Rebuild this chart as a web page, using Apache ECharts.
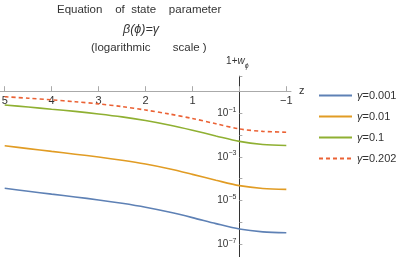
<!DOCTYPE html>
<html>
<head>
<meta charset="utf-8">
<script src="https://cdn.jsdelivr.net/npm/echarts@6/dist/echarts.min.js"></script>
<style>
html,body{margin:0;padding:0;background:#fff;}
#c{width:407px;height:257px;}
</style>
</head>
<body>
<div id="c"></div>
<script>
// ---- data ----
const zValues = [5, 4.5, 4, 3.5, 3, 2.5, 2, 1.5, 1, 0.5, 0, -0.5, -1];
const gamma0001 = [3.63e-5, 2.66e-5, 1.95e-5, 1.45e-5, 1.06e-5, 7.41e-6, 4.90e-6, 2.95e-6, 1.64e-6, 8.71e-7, 4.90e-7, 3.63e-7, 3.31e-7];
const gamma001  = [3.24e-3, 2.40e-3, 1.78e-3, 1.33e-3, 9.89e-4, 7.00e-4, 4.68e-4, 2.85e-4, 1.58e-4, 8.51e-5, 4.79e-5, 3.55e-5, 3.24e-5];
const gamma01   = [0.240, 0.193, 0.153, 0.122, 0.0933, 0.0684, 0.0462, 0.0288, 0.0166, 0.00912, 0.00513, 0.00372, 0.00331];
const gamma0202 = [0.575, 0.490, 0.412, 0.339, 0.269, 0.202, 0.141, 0.0933, 0.0575, 0.0331, 0.0191, 0.0148, 0.0135];
const seriesNames = ['γ=0.001', 'γ=0.01', 'γ=0.1', 'γ=0.202'];
const xTickValues = [-1, 0, 1, 2, 3, 4, 5];
const xLabelValues = [-1, 1, 2, 3, 4, 5];
const titleLines = ['Equation    of  state    parameter', 'β(ϕ)=γ', '(logarithmic       scale )'];

const colors = ['#5E81B5', '#E19C24', '#8FB032', '#EB6235'];
const allData = [gamma0001, gamma001, gamma01, gamma0202];
const pairs = arr => zValues.map((z, i) => [z, arr[i]]);

const X_MIN = -1.1, X_MAX = 5.1;
const GRID_LEFT = 0, GRID_RIGHT = 116, W = 407;
const gridWidth = W - GRID_LEFT - GRID_RIGHT;
// y axis crosses the x axis at z = 0 (inverse x axis)
const yAxisOffset = -(gridWidth * (X_MAX - 0) / (X_MAX - X_MIN));

const chart = echarts.init(document.getElementById('c'), null, {renderer: 'canvas'});
const FONT = '"Liberation Sans", Arial, sans-serif';

chart.setOption({
  animation: false,
  backgroundColor: '#fff',
  textStyle: {fontFamily: FONT},
  title: [
    {text: titleLines[0], left: 57, top: 4, padding: 0, textStyle: {fontSize: 11.5, fontWeight: 'normal', color: '#333', fontFamily: FONT}},
    {text: titleLines[1], left: 123, top: 23, padding: 0, textStyle: {fontSize: 12.5, fontWeight: 'normal', fontStyle: 'italic', color: '#333', fontFamily: FONT}},
    {text: titleLines[2], left: 91, top: 42, padding: 0, textStyle: {fontSize: 11.5, fontWeight: 'normal', color: '#333', fontFamily: FONT}}
  ],
  legend: {
    orient: 'vertical',
    left: 318,
    top: 90,
    padding: 0,
    itemWidth: 33,
    itemHeight: 12,
    itemGap: 10,
    data: seriesNames,
    itemStyle: {opacity: 0},
    formatter: n => n.replace('γ', '{i|γ}'),
    textStyle: {
      fontSize: 11, color: '#333', fontFamily: FONT,
      rich: {i: {fontStyle: 'italic', fontSize: 11, color: '#333', fontFamily: FONT}}
    }
  },
  grid: {left: GRID_LEFT, right: GRID_RIGHT, top: 76.2, bottom: -8.9, containLabel: false, outerBoundsMode: 'none'},
  xAxis: {
    type: 'value',
    inverse: true,
    min: X_MIN,
    max: X_MAX,
    position: 'top',
    offset: -15,
    name: 'z',
    nameLocation: 'start',
    nameGap: 8,
    nameTextStyle: {fontSize: 11, color: '#333', fontFamily: FONT, verticalAlign: 'middle'},
    axisLine: {onZero: false, lineStyle: {color: '#aaa', width: 1}},
    axisTick: {show: true, customValues: xTickValues, length: 5, lineStyle: {color: '#aaa'}},
    axisLabel: {
      customValues: xLabelValues, inside: true, margin: 4, fontSize: 11, color: '#333', fontFamily: FONT,
      formatter: v => (v < 0 ? '−' + (-v) : String(v))
    },
    splitLine: {show: false}
  },
  yAxis: {
    type: 'log',
    logBase: 10,
    min: 1e-8,
    max: Math.pow(10, 0.7),
    splitNumber: 9,
    position: 'left',
    offset: yAxisOffset,
    name: '1+{i|w}{s|ϕ}',
    nameLocation: 'end',
    nameGap: 7,
    nameTextStyle: {
      fontSize: 10, color: '#333', fontFamily: FONT, align: 'center', padding: [0, 4, 0, 0],
      rich: {
        i: {fontStyle: 'italic', fontSize: 10, color: '#333', fontFamily: FONT},
        s: {fontStyle: 'italic', fontSize: 7, color: '#333', fontFamily: FONT, verticalAlign: 'bottom', lineHeight: 15}
      }
    },
    axisLine: {onZero: false, lineStyle: {color: '#333', width: 1}},
    axisTick: {show: true, inside: true, length: 3, lineStyle: {color: '#aaa'}},
    axisLabel: {
      margin: 3,
      fontSize: 10, color: '#333', fontFamily: FONT,
      formatter: v => {
        const e = Math.log10(v);
        const r = Math.round(e);
        if (Math.abs(e - r) > 0.01 || r >= 0 || r % 2 === 0) return '';
        return '10{s|−' + (-r) + '}';
      },
      rich: {s: {fontSize: 7, color: '#333', fontFamily: FONT, verticalAlign: 'top', lineHeight: 14}}
    },
    splitLine: {show: false},
    minorTick: {show: false}
  },
  series: allData.map((arr, k) => ({
    name: seriesNames[k],
    type: 'line',
    data: pairs(arr),
    smooth: 0.3,
    symbol: 'none',
    lineStyle: {color: colors[k], width: 1.6, type: k === 3 ? [4, 3] : 'solid'},
    itemStyle: {color: colors[k]},
    z: 2 + k
  }))
});
</script>
</body>
</html>
